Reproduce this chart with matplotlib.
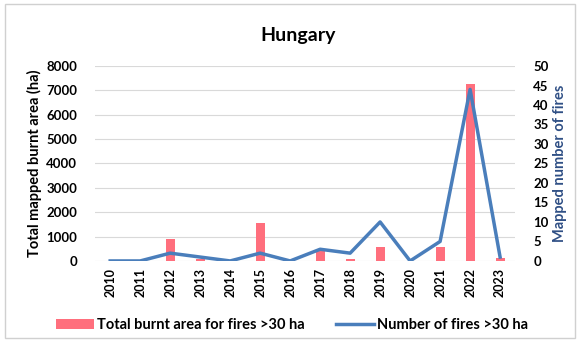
import matplotlib
matplotlib.use("Agg")
import matplotlib.pyplot as plt
from matplotlib.patches import Rectangle, Patch
from matplotlib.lines import Line2D
import numpy as np

years = ["2010", "2011", "2012", "2013", "2014", "2015", "2016",
         "2017", "2018", "2019", "2020", "2021", "2022", "2023"]
burnt_area = [0, 0, 900, 80, 0, 1560, 0, 410, 80, 575, 0, 575, 7250, 140]
fire_count = [0, 0, 2, 1, 0, 2, 0, 3, 2, 10, 0, 5, 44, 1]

bar_color = "#FF6F7D"
line_color = "#4A7EBB"
font = ["Lato", "DejaVu Sans"]
plt.rcParams["font.family"] = font

fig = plt.figure(figsize=(5.84, 3.42), dpi=100)
fig.patch.set_facecolor("white")
fig.patches.append(Rectangle((0.008, 0.012), 0.976, 0.976, transform=fig.transFigure,
                             fill=False, edgecolor="#D0D0D0", linewidth=1.0))

ax = fig.add_axes([0.163, 0.237, 0.719, 0.570])
x = np.arange(len(years))
ax.bar(x, burnt_area, width=0.3, color=bar_color, zorder=2)
ax.set_ylim(0, 8000)
ax.set_yticks(range(0, 8001, 1000))
ax.set_xlim(-0.5, len(years) - 0.5)
ax.set_xticks(x)
ax.set_xticklabels(years, rotation=90, fontweight="bold", fontsize=9)
ax.grid(axis="y", color="#D9D9D9", linewidth=0.8, zorder=0)
ax.set_axisbelow(True)
for s in ax.spines.values():
    s.set_visible(False)
ax.tick_params(axis="both", length=0, labelsize=9.5)
ax.tick_params(axis="x", labelsize=9, pad=5)
for lab in ax.get_yticklabels():
    lab.set_fontweight("bold")
ax.tick_params(axis="y", pad=13)
ax.set_ylabel("Total mapped burnt area (ha)", fontweight="bold", fontsize=10.5, labelpad=3)

ax2 = ax.twinx()
ax2.plot(x, fire_count, color=line_color, linewidth=2.5, zorder=3)
ax2.set_ylim(0, 50)
ax2.set_yticks(range(0, 51, 5))
for s in ax2.spines.values():
    s.set_visible(False)
ax2.tick_params(axis="y", length=0, labelsize=9.5, pad=13)
for lab in ax2.get_yticklabels():
    lab.set_fontweight("bold")
ax2.set_ylabel("Mapped number of fires", fontweight="bold", fontsize=10.5,
               color="#2F4F85", labelpad=3)

fig.text(0.51, 0.895, "Hungary", ha="center", va="center", fontsize=14, fontweight="bold")

handles = [Patch(facecolor=bar_color, edgecolor="none"),
           Line2D([0], [0], color=line_color, linewidth=2.5)]
labels = ["Total burnt area for fires >30 ha", "Number of fires >30 ha"]
fig.legend(handles, labels, loc="center", bbox_to_anchor=(0.5, 0.05), ncol=2,
           frameon=False, prop={"weight": "bold", "size": 10.5, "family": font},
           handlelength=2.6, handletextpad=0.2, columnspacing=2.2)

fig.savefig("out.png", dpi=100, facecolor="white")
